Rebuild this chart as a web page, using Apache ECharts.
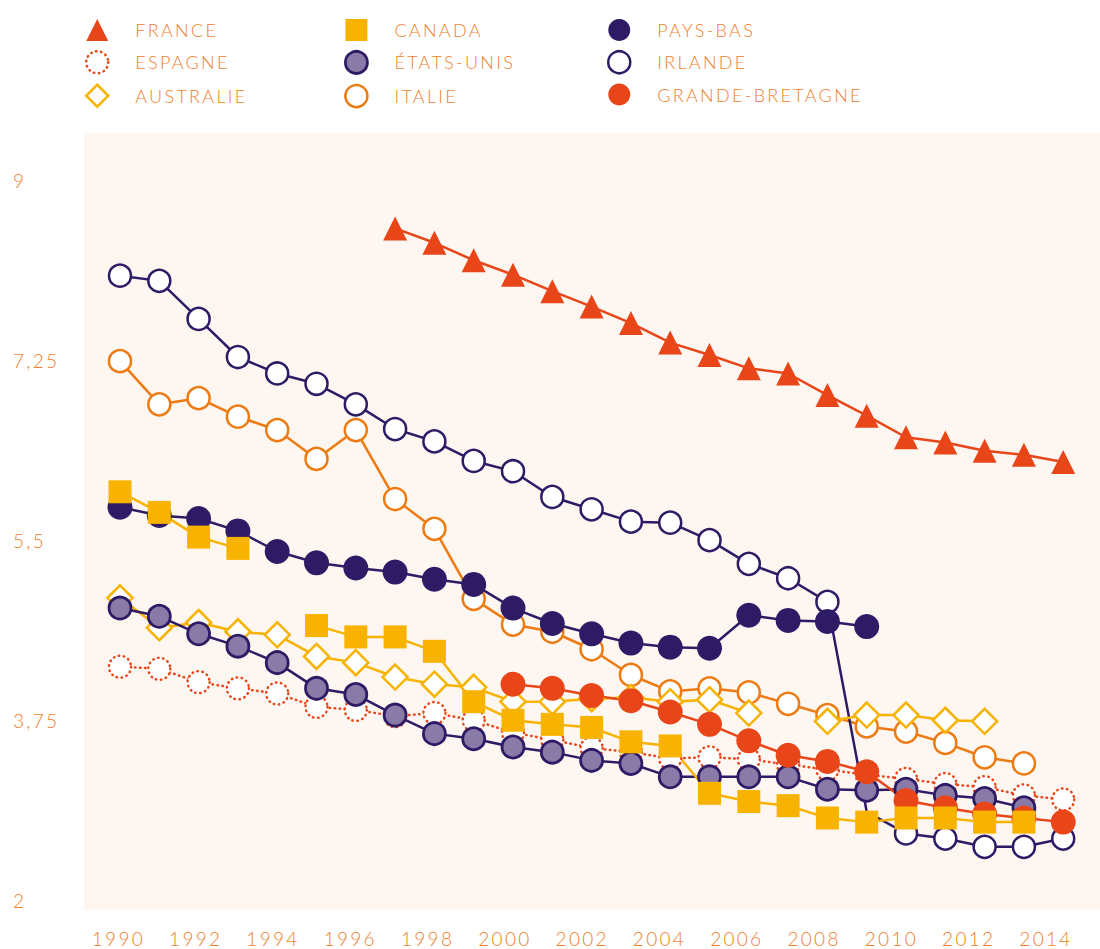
<!DOCTYPE html>
<html><head><meta charset="utf-8">
<script src="https://cdn.jsdelivr.net/npm/echarts@6/dist/echarts.min.js"></script>
<style>
html,body{margin:0;padding:0;background:#fff;}
#c{width:1100px;height:949px;}
#c text{letter-spacing:2.3px;}
</style></head><body><div id="c"></div>
<script>
// Years 1990..2014
const years = [1990,1991,1992,1993,1994,1995,1996,1997,1998,1999,2000,2001,2002,2003,2004,2005,2006,2007,2008,2009,2010,2011,2012,2013,2014];
const xTickLabels = [1990,1992,1994,1996,1998,2000,2002,2004,2006,2008,2010,2012,2014];
const yTickLabels = [2,3.75,5.5,7.25,9];

const france = [null,null,null,null,null,null,null,8.53,8.39,8.22,8.08,7.92,7.77,7.61,7.42,7.30,7.17,7.12,6.91,6.71,6.50,6.45,6.37,6.33,6.26];
const espagne = [4.27,4.25,4.12,4.06,4.01,3.88,3.85,3.79,3.82,3.75,3.63,3.56,3.48,3.44,3.38,3.39,3.37,3.32,3.27,3.22,3.18,3.13,3.10,3.02,2.98];
const australie = [4.94,4.65,4.70,4.61,4.58,4.37,4.31,4.17,4.10,4.07,3.93,3.93,3.96,3.97,3.93,3.95,3.82,null,3.74,3.80,3.80,3.75,3.74,null,null];
const canada = [5.97,5.77,5.53,5.42,null,4.67,4.56,4.56,4.42,3.93,3.75,3.71,3.68,3.54,3.50,3.04,2.96,2.92,2.80,2.76,2.80,2.80,2.76,2.76,null];
const etatsUnis = [4.84,4.76,4.59,4.47,4.31,4.06,4.00,3.80,3.62,3.57,3.49,3.44,3.36,3.33,3.20,3.20,3.20,3.20,3.08,3.07,3.08,3.02,2.99,2.90,null];
const italie = [7.24,6.82,6.88,6.70,6.57,6.29,6.57,5.90,5.61,4.93,4.68,4.61,4.44,4.19,4.03,4.06,4.02,3.91,3.80,3.69,3.64,3.53,3.39,3.33,null];
const paysBas = [5.82,5.74,5.71,5.59,5.39,5.28,5.23,5.19,5.12,5.07,4.84,4.69,4.59,4.50,4.46,4.45,4.77,4.72,4.71,4.66,null,null,null,null,null];
const irlande = [8.07,8.02,7.65,7.28,7.12,7.02,6.82,6.58,6.46,6.27,6.17,5.92,5.80,5.68,5.67,5.50,5.27,5.13,4.90,2.86,2.65,2.60,2.52,2.52,2.60];
const grandeBretagne = [null,null,null,null,null,null,null,null,null,null,4.10,4.06,3.99,3.94,3.83,3.71,3.55,3.41,3.35,3.25,2.97,2.90,2.84,2.80,2.76];
// years whose marker is not drawn in the original (line passes through only)
const irlandeNoMarkerYears = [2009];

const RED = '#E84619', YEL = '#F8B300', ORA = '#EE7A12', NAVY = '#2D1B66', PURP = '#8A7AA8', TXT = '#EE7F2F', BG = '#FEF6F0';
const FONT = 'Lato';

function pairs(vals, noMarker){
  return vals.map((v,i)=>{
    const p = [years[i], v===null ? '-' : v];
    if (noMarker && noMarker.indexOf(years[i]) >= 0) return {value:p, symbol:'none'};
    return p;
  });
}

const styles = {
  'FRANCE': {symbol:'triangle', size:24, item:{color:RED}, line:{color:RED, width:2.5}},
  'ESPAGNE': {symbol:'circle', size:22, item:{color:'#fff', borderColor:RED, borderWidth:2.5, borderType:[0.5,4.5], borderCap:'round'}, line:{color:RED, width:2.5, type:[0.5,4.5], cap:'round'}},
  'AUSTRALIE': {symbol:'diamond', size:25, item:{color:'#fff', borderColor:YEL, borderWidth:2.5}, line:{color:YEL, width:2.5}},
  'CANADA': {symbol:'rect', size:23, item:{color:YEL}, line:{color:YEL, width:2.5}},
  'ÉTATS-UNIS': {symbol:'circle', size:22, item:{color:PURP, borderColor:NAVY, borderWidth:2.8}, line:{color:NAVY, width:2.5}},
  'ITALIE': {symbol:'circle', size:22, item:{color:'#fff', borderColor:ORA, borderWidth:2.5}, line:{color:ORA, width:2.5}},
  'PAYS-BAS': {symbol:'circle', size:25, item:{color:NAVY}, line:{color:NAVY, width:2.5}},
  'IRLANDE': {symbol:'circle', size:22, item:{color:'#fff', borderColor:NAVY, borderWidth:2.5}, line:{color:NAVY, width:2.5}},
  'GRANDE-BRETAGNE': {symbol:'circle', size:25, item:{color:RED}, line:{color:RED, width:2.5}}
};
const seriesData = {
  'FRANCE': france, 'ESPAGNE': espagne, 'AUSTRALIE': australie, 'CANADA': canada,
  'ÉTATS-UNIS': etatsUnis, 'ITALIE': italie, 'PAYS-BAS': paysBas, 'IRLANDE': irlande,
  'GRANDE-BRETAGNE': grandeBretagne
};
const noMarkers = {'IRLANDE': irlandeNoMarkerYears};
const drawOrder = ['ESPAGNE','ITALIE','IRLANDE','AUSTRALIE','PAYS-BAS','ÉTATS-UNIS','GRANDE-BRETAGNE','CANADA','FRANCE'];
const legendCols = [['FRANCE','ESPAGNE','AUSTRALIE'],['CANADA','ÉTATS-UNIS','ITALIE'],['PAYS-BAS','IRLANDE','GRANDE-BRETAGNE']];
const legendLefts = [85, 344, 607];

const series = drawOrder.map(name => {
  const s = styles[name];
  return {
    name, type:'line', xAxisIndex:0, data: pairs(seriesData[name], noMarkers[name]),
    symbol: s.symbol, symbolSize: s.size, showSymbol:true, showAllSymbol:true,
    itemStyle: s.item, lineStyle: s.line, connectNulls:false,
    emphasis:{disabled:true}, animation:false
  };
});

const legends = legendCols.map((col, ci) => ({
  orient:'vertical', left: legendLefts[ci], top: 19, padding:0,
  itemWidth:22, itemHeight:22, itemGap:9, selectedMode:false,
  textStyle:{color:TXT, fontFamily:FONT, fontWeight:300, fontSize:18, lineHeight:22, padding:[0,0,0,22]},
  data: col.map(n => ({name:n, icon: styles[n].symbol, itemStyle: Object.assign({}, styles[n].item)}))
}));

const chart = echarts.init(document.getElementById('c'), null, {renderer:'svg'});
chart.setOption({
  animation:false,
  backgroundColor:'#fff',
  legend: legends,
  grid:{left:84, right:0, top:133, bottom:39, show:true, backgroundColor:BG, borderWidth:0},
  xAxis:[
    {type:'value', min:1989.084, max:2014.936, show:false},
    {type:'value', min:1989.110, max:2015.397, position:'bottom',
     axisLine:{show:false}, axisTick:{show:false}, splitLine:{show:false},
     axisLabel:{customValues:xTickLabels, margin:19, color:TXT, fontFamily:FONT, fontWeight:300, fontSize:19, formatter:v=>String(v)}}
  ],
  yAxis:{type:'value', min:1.906, max:9.457,
    axisLine:{show:false}, axisTick:{show:false}, splitLine:{show:false},
    axisLabel:{customValues:yTickLabels, align:'left', margin:71, color:TXT, fontFamily:FONT, fontWeight:300, fontSize:19,
      formatter:v=>String(v).replace('.', ',')}},
  series
});
</script></body></html>
